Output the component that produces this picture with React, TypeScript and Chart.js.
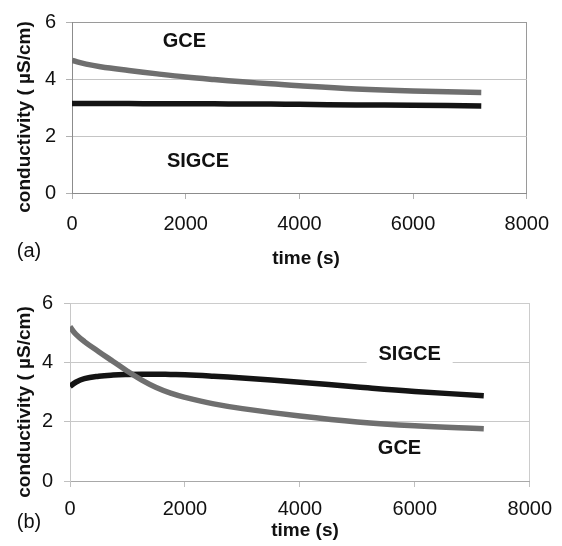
import React, { useEffect, useRef } from "react";
import { Chart, registerables } from "chart.js";
Chart.register(...registerables);

// ---- data ----
const timeA = [0, 250, 500, 1000, 1500, 2000, 2500, 3000, 3500, 4000, 5000, 6000, 7200];
const gceA = [4.65, 4.52, 4.43, 4.3, 4.18, 4.07, 3.98, 3.9, 3.83, 3.76, 3.65, 3.58, 3.53];
const sigceA = [3.14, 3.14, 3.14, 3.14, 3.13, 3.13, 3.13, 3.12, 3.12, 3.11, 3.09, 3.08, 3.05];

const timeB = [0, 100, 250, 500, 750, 1000, 1250, 1500, 1750, 2000, 2500, 3000, 4000, 5000, 6000, 7200];
const gceB = [5.2, 4.95, 4.7, 4.36, 4.03, 3.7, 3.4, 3.15, 2.96, 2.82, 2.6, 2.44, 2.19, 1.99, 1.86, 1.76];
const sigceB = [3.19, 3.33, 3.45, 3.53, 3.57, 3.59, 3.6, 3.6, 3.59, 3.58, 3.53, 3.47, 3.33, 3.17, 3.02, 2.875];

const xTicks = [0, 2000, 4000, 6000, 8000];
const yTicks = [0, 2, 4, 6];

const seriesNames = ["GCE", "SIGCE"];
const yTitleText = "conductivity ( \u00B5S/cm)";
const xTitleText = "time (s)";

const FONT = "'Liberation Sans', Arial, sans-serif";

const annotPlugin = {
  id: "annot",
  afterDraw(chart: any, _args: any, opts: any) {
    const ctx = chart.ctx;
    const xs = chart.scales.x;
    const ys = chart.scales.y;
    ctx.save();
    ctx.fillStyle = "#111";
    ctx.textAlign = "center";
    ctx.textBaseline = "middle";
    // y title
    ctx.save();
    ctx.translate(opts.yTitleX, opts.yTitleY);
    ctx.rotate(-Math.PI / 2);
    ctx.font = `bold 19px ${FONT}`;
    ctx.fillText(yTitleText, 0, 0);
    ctx.restore();
    // x title
    ctx.font = `bold 19px ${FONT}`;
    ctx.fillText(xTitleText, opts.xTitleX, opts.xTitleY);
    // panel letter
    ctx.font = `20px ${FONT}`;
    ctx.fillText(opts.panel, opts.panelX, opts.panelY);
    // series labels
    ctx.font = `bold 20px ${FONT}`;
    for (const l of opts.labels) {
      const px = xs.getPixelForValue(l.x);
      const py = ys.getPixelForValue(l.y);
      if (l.bg) {
        ctx.fillStyle = "#fff";
        ctx.fillRect(px - l.bg / 2, py - 13, l.bg, 26);
      }
      ctx.fillStyle = "#111";
      ctx.fillText(l.text, px, py);
    }
    ctx.restore();
  },
};

function makeConfig(p: any) {
  return {
    type: "line",
    data: {
      datasets: [
        {
          label: seriesNames[0],
          data: p.t.map((t: number, i: number) => ({ x: t, y: p.gce[i] })),
          borderColor: "#6f6f6f",
          borderWidth: p.lw,
          pointRadius: 0,
          tension: 0.4,
          fill: false,
        },
        {
          label: seriesNames[1],
          data: p.t.map((t: number, i: number) => ({ x: t, y: p.sig[i] })),
          borderColor: "#141414",
          borderWidth: p.lw,
          pointRadius: 0,
          tension: 0.4,
          fill: false,
        },
      ],
    },
    options: {
      animation: false,
      responsive: false,
      devicePixelRatio: 1,
      layout: { padding: { left: 0, right: p.padRight, top: p.padTop, bottom: 0 } },
      plugins: {
        legend: { display: false },
        tooltip: { enabled: false },
        annot: p.annot,
      },
      scales: {
        x: {
          type: "linear",
          min: 0,
          max: 8000,
          afterBuildTicks: (s: any) => {
            s.ticks = xTicks.map((v) => ({ value: v }));
          },
          afterFit: (s: any) => {
            s.height = p.xAxisH;
          },
          ticks: {
            font: { family: FONT, size: 20 },
            color: "#111",
            padding: p.xTickPad,
            maxRotation: 0,
            autoSkip: false,
            callback: (v: any) => String(v),
          },
          grid: {
            color: (c: any) => (c.tick && c.tick.value === 8000 ? p.rightColor : "transparent"),
            tickColor: p.tickColor,
            tickLength: 6,
            lineWidth: 1,
          },
          border: { display: true, color: p.axisColor, width: 1 },
        },
        y: {
          type: "linear",
          min: 0,
          max: 6,
          afterBuildTicks: (s: any) => {
            s.ticks = yTicks.map((v) => ({ value: v }));
          },
          afterFit: (s: any) => {
            s.width = p.yAxisW;
          },
          ticks: {
            font: { family: FONT, size: 20 },
            color: "#111",
            padding: p.yTickPad,
            autoSkip: false,
            callback: (v: any) => String(v),
          },
          grid: {
            color: (c: any) =>
              c.tick && c.tick.value === 6 ? p.topColor : c.tick && c.tick.value === 0 ? "transparent" : p.gridColor,
            tickColor: p.tickColor,
            tickLength: 6,
            lineWidth: 1,
          },
          border: { display: true, color: p.leftColor, width: 1 },
        },
      },
    },
    plugins: [annotPlugin],
  };
}

const panelA = {
  t: timeA,
  gce: gceA,
  sig: sigceA,
  lw: 5.5,
  padRight: 23,
  padTop: 22,
  xAxisH: 80,
  yAxisW: 72,
  xTickPad: 13,
  yTickPad: 10,
  axisColor: "#8c8c8c",
  leftColor: "#8c8c8c",
  rightColor: "#9a9a9a",
  topColor: "#9a9a9a",
  gridColor: "#c4c4c4",
  tickColor: "#b0b0b0",
  annot: {
    yTitleX: 25,
    yTitleY: 117,
    xTitleX: 306,
    xTitleY: 259,
    panel: "(a)",
    panelX: 29,
    panelY: 251,
    labels: [
      { text: "GCE", x: 1977, y: 5.32 },
      { text: "SIGCE", x: 2217, y: 1.12 },
    ],
  },
};

const panelB = {
  t: timeB,
  gce: gceB,
  sig: sigceB,
  lw: 5.5,
  padRight: 25,
  padTop: 30,
  xAxisH: 65,
  yAxisW: 70,
  xTickPad: 10,
  yTickPad: 11,
  axisColor: "#a8a8a8",
  leftColor: "#c8c8c8",
  rightColor: "#cccccc",
  topColor: "#cccccc",
  gridColor: "#c8c8c8",
  tickColor: "#c0c0c0",
  annot: {
    yTitleX: 25,
    yTitleY: 129,
    xTitleX: 305,
    xTitleY: 258,
    panel: "(b)",
    panelX: 29,
    panelY: 249,
    labels: [
      { text: "SIGCE", x: 5910, y: 4.26, bg: 86 },
      { text: "GCE", x: 5734, y: 1.08 },
    ],
  },
};

function Panel({ cfg, top }: { cfg: any; top: number }) {
  const ref = useRef<HTMLCanvasElement | null>(null);
  useEffect(() => {
    if (!ref.current) return;
    const chart = new Chart(ref.current, makeConfig(cfg) as any);
    return () => chart.destroy();
  }, []);
  return (
    <canvas
      ref={ref}
      width={562}
      height={273}
      style={{ position: "absolute", left: 0, top, width: 562, height: 273 }}
    />
  );
}

export default function App() {
  return (
    <div style={{ position: "absolute", left: 0, top: 0, width: 562, height: 546, background: "#fff" }}>
      <Panel cfg={panelA} top={0} />
      <Panel cfg={panelB} top={273} />
    </div>
  );
}
